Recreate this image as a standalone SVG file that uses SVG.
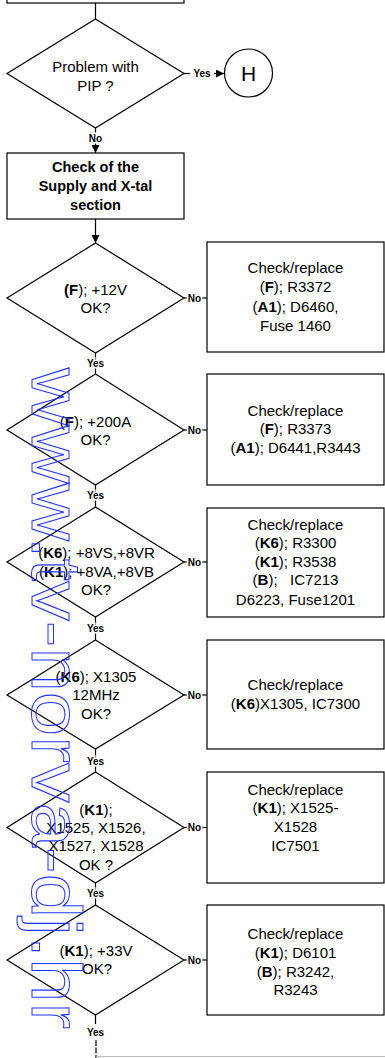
<svg xmlns="http://www.w3.org/2000/svg" width="385" height="1058" viewBox="0 0 385 1058">
<defs>
<marker id="arr" viewBox="0 0 10 10" refX="10" refY="5" markerWidth="8" markerHeight="8" markerUnits="userSpaceOnUse" orient="auto">
<path d="M0,0 L10,5 L0,10 Z" fill="#000"/>
</marker>
</defs>
<style>
.shp{fill:#fff;stroke:#000;stroke-width:1.2}
.ln{fill:none;stroke:#000;stroke-width:1.2}
.t{font-family:"Liberation Sans",Arial,sans-serif;font-size:15px;fill:#000;text-anchor:middle}
.tb{font-family:"Liberation Sans",Arial,sans-serif;font-size:14.5px;font-weight:bold;fill:#000;text-anchor:middle}
.lb{font-family:"Liberation Sans",Arial,sans-serif;font-size:10px;font-weight:bold;fill:#000;text-anchor:middle;stroke:#fff;stroke-width:3;paint-order:stroke}
.b{font-weight:bold}
.wm{font-family:"Liberation Sans",Arial,sans-serif;font-size:70px;fill:none;stroke:#2233ff;stroke-width:1}
</style>

<g id="connectors">
<line class="ln" x1="95.5" y1="3" x2="95.5" y2="19"/>
<line class="ln" x1="184" y1="73.5" x2="190" y2="73.5"/>
<line class="ln" x1="214" y1="73.5" x2="224" y2="73.5" marker-end="url(#arr)"/>
<line class="ln" x1="95.5" y1="128" x2="95.5" y2="153" marker-end="url(#arr)"/>
<line class="ln" x1="95.5" y1="219" x2="95.5" y2="243" marker-end="url(#arr)"/>
<line class="ln" x1="95.5" y1="353" x2="95.5" y2="374"/>
<line class="ln" x1="95.5" y1="485" x2="95.5" y2="507"/>
<line class="ln" x1="95.5" y1="617" x2="95.5" y2="640"/>
<line class="ln" x1="95.5" y1="749" x2="95.5" y2="772"/>
<line class="ln" x1="95.5" y1="883" x2="95.5" y2="905"/>
<line class="ln" x1="95.5" y1="1015" x2="95.5" y2="1024"/>
<line class="ln" x1="96" y1="1040" x2="96" y2="1058" stroke-dasharray="6,1.5"/>
<line x1="96" y1="1056.5" x2="385" y2="1056.5" stroke="#bbb" stroke-width="1.2"/>
<line class="ln" x1="184" y1="298" x2="188" y2="298"/>
<line class="ln" x1="201" y1="298" x2="207" y2="298"/>
<line class="ln" x1="184" y1="430" x2="188" y2="430"/>
<line class="ln" x1="201" y1="430" x2="207" y2="430"/>
<line class="ln" x1="184" y1="562" x2="188" y2="562"/>
<line class="ln" x1="201" y1="562" x2="207" y2="562"/>
<line class="ln" x1="184" y1="695" x2="188" y2="695"/>
<line class="ln" x1="201" y1="695" x2="207" y2="695"/>
<line class="ln" x1="184" y1="827.5" x2="188" y2="827.5"/>
<line class="ln" x1="201" y1="827.5" x2="207" y2="827.5"/>
<line class="ln" x1="184" y1="960" x2="188" y2="960"/>
<line class="ln" x1="201" y1="960" x2="207" y2="960"/>
<text class="lb" x="202" y="77">Yes</text>
<text class="lb" x="95.5" y="142">No</text>
<text class="lb" x="95.5" y="367">Yes</text>
<text class="lb" x="95.5" y="499">Yes</text>
<text class="lb" x="95.5" y="632">Yes</text>
<text class="lb" x="95.5" y="765">Yes</text>
<text class="lb" x="95.5" y="897">Yes</text>
<text class="lb" x="95.5" y="1036">Yes</text>
<text class="lb" x="194.5" y="302">No</text>
<text class="lb" x="194.5" y="434">No</text>
<text class="lb" x="194.5" y="566">No</text>
<text class="lb" x="194.5" y="699">No</text>
<text class="lb" x="194.5" y="831">No</text>
<text class="lb" x="194.5" y="964">No</text>
</g>

<g id="top">
<rect class="shp" x="7" y="-10" width="177" height="13"/>
</g>

<g id="d-pip">
<polygon class="shp" points="95.5,19 184,73.5 95.5,128 7,73.5"/>
<text class="t" x="95.5" y="72">Problem with</text>
<text class="t" x="95.5" y="91">PIP ?</text>
</g>

<g id="h">
<circle class="shp" cx="248.5" cy="73" r="24"/>
<text x="248.5" y="80.5" style="font-family:'Liberation Sans',Arial,sans-serif;font-size:21px;text-anchor:middle">H</text>
</g>

<g id="supply">
<rect class="shp" x="7" y="153" width="177" height="66"/>
<text class="tb" x="95.5" y="172">Check of the</text>
<text class="tb" x="95.5" y="191">Supply and X-tal</text>
<text class="tb" x="95.5" y="210">section</text>
</g>

<g id="d-12v">
<polygon class="shp" points="95.5,243 184,298 95.5,353 7,298"/>
<text class="t" x="95.5" y="295"><tspan class="b">(F</tspan>);  +12V</text>
<text class="t" x="95.5" y="313">OK?</text>
</g>
<g id="r-12v">
<rect class="shp" x="207" y="242" width="177" height="110"/>
<text class="t" x="295.5" y="273">Check/replace</text>
<text class="t" x="295.5" y="292">(<tspan class="b">F</tspan>);  R3372</text>
<text class="t" x="295.5" y="312">(<tspan class="b">A1</tspan>); D6460,</text>
<text class="t" x="295.5" y="331">Fuse 1460</text>
</g>

<g id="d-200a">
<polygon class="shp" points="95.5,374 184,430 95.5,485 7,430"/>
<text class="t" x="95.5" y="427">(<tspan class="b">F</tspan>);  +200A</text>
<text class="t" x="95.5" y="445">OK?</text>
</g>
<g id="r-200a">
<rect class="shp" x="207" y="374" width="177" height="111"/>
<text class="t" x="295.5" y="416">Check/replace</text>
<text class="t" x="295.5" y="434">(<tspan class="b">F</tspan>);  R3373</text>
<text class="t" x="295.5" y="453">(<tspan class="b">A1</tspan>); D6441,R3443</text>
</g>

<g id="d-8v">
<polygon class="shp" points="95.5,507 184,562 95.5,617 7,562"/>
<text class="t" x="96.5" y="558">(<tspan class="b">K6</tspan>);  +8VS,+8VR</text>
<text class="t" x="96.5" y="577">(<tspan class="b">K1</tspan>);  +8VA,+8VB</text>
<text class="t" x="96" y="595">OK?</text>
</g>
<g id="r-8v">
<rect class="shp" x="207" y="508" width="177" height="109"/>
<text class="t" x="295.5" y="530">Check/replace</text>
<text class="t" x="295.5" y="548">(<tspan class="b">K6</tspan>);  R3300</text>
<text class="t" x="295.5" y="567">(<tspan class="b">K1</tspan>);  R3538</text>
<text class="t" x="295.5" y="585" xml:space="preserve">(<tspan class="b">B</tspan>);   IC7213</text>
<text class="t" x="295.5" y="605">D6223, Fuse1201</text>
</g>

<g id="d-x1305">
<polygon class="shp" points="95.5,640 184,695 95.5,749 7,695"/>
<text class="t" x="96" y="682">(<tspan class="b">K6</tspan>);  X1305</text>
<text class="t" x="96" y="700">12MHz</text>
<text class="t" x="96" y="719">OK?</text>
</g>
<g id="r-x1305">
<rect class="shp" x="207" y="640" width="177" height="109"/>
<text class="t" x="295.5" y="690">Check/replace</text>
<text class="t" x="295.5" y="709">(<tspan class="b">K6</tspan>)X1305, IC7300</text>
</g>

<g id="d-x1525">
<polygon class="shp" points="95.5,772 184,827.5 95.5,883 7,827.5"/>
<text class="t" x="96" y="815">(<tspan class="b">K1</tspan>);</text>
<text class="t" x="96" y="833">X1525, X1526,</text>
<text class="t" x="96" y="851">X1527, X1528</text>
<text class="t" x="96" y="870">OK ?</text>
</g>
<g id="r-x1525">
<rect class="shp" x="207" y="772" width="177" height="111"/>
<text class="t" x="295.5" y="795">Check/replace</text>
<text class="t" x="295.5" y="813">(<tspan class="b">K1</tspan>); X1525-</text>
<text class="t" x="295.5" y="832">X1528</text>
<text class="t" x="295.5" y="851">IC7501</text>
</g>

<g id="d-33v">
<polygon class="shp" points="95.5,905 184,960 95.5,1015 7,960"/>
<text class="t" x="96" y="956">(<tspan class="b">K1</tspan>);  +33V</text>
<text class="t" x="97" y="974">OK?</text>
</g>
<g id="r-33v">
<rect class="shp" x="207" y="905" width="177" height="110"/>
<text class="t" x="295.5" y="939">Check/replace</text>
<text class="t" x="295.5" y="958">(<tspan class="b">K1</tspan>); D6101</text>
<text class="t" x="295.5" y="977">(<tspan class="b">B</tspan>); R3242,</text>
<text class="t" x="295.5" y="995">R3243</text>
</g>

<g id="watermark">
<text class="wm" transform="translate(32,368) rotate(90)" textLength="661" lengthAdjust="spacingAndGlyphs">www.tv-norva-dj.hr</text>
</g>
</svg>
